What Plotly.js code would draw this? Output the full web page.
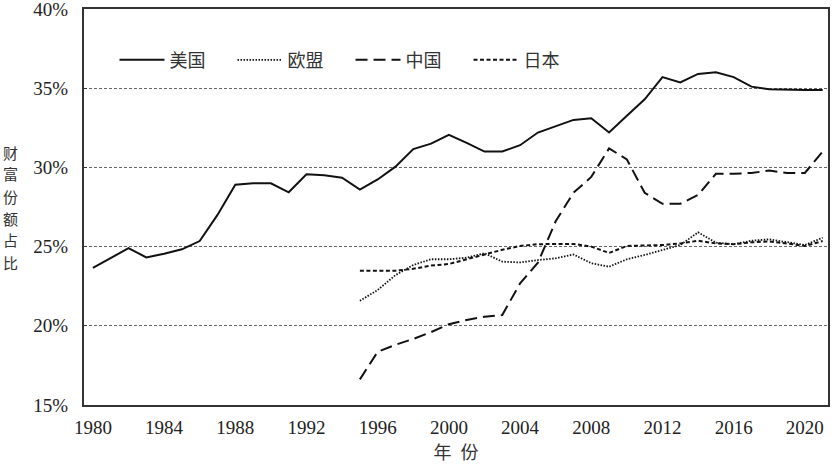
<!DOCTYPE html>
<html>
<head>
<meta charset="utf-8">
<script src="https://cdn.plot.ly/plotly-3.0.1.min.js"></script>
<style>html,body{margin:0;padding:0;background:#fff;}#chart{width:836px;height:466px;}</style>
</head>
<body>
<div id="chart"></div>
<script>
// ---- data ----
const yearsUS = [1980,1981,1982,1983,1984,1985,1986,1987,1988,1989,1990,1991,1992,1993,1994,1995,1996,1997,1998,1999,2000,2001,2002,2003,2004,2005,2006,2007,2008,2009,2010,2011,2012,2013,2014,2015,2016,2017,2018,2019,2020,2021];
const usShare = [23.65,24.25,24.9,24.32,24.55,24.83,25.35,27.0,28.9,29.0,29.0,28.43,29.56,29.5,29.35,28.6,29.24,30.05,31.16,31.5,32.06,31.55,31.0,31.0,31.4,32.2,32.6,33.0,33.1,32.2,33.26,34.3,35.7,35.37,35.9,36.0,35.7,35.1,34.93,34.89,34.89,34.89];
const yearsOther = [1995,1996,1997,1998,1999,2000,2001,2002,2003,2004,2005,2006,2007,2008,2009,2010,2011,2012,2013,2014,2015,2016,2017,2018,2019,2020,2021];
const euShare = [21.58,22.26,23.2,23.84,24.2,24.2,24.3,24.58,24.05,24.0,24.15,24.26,24.5,23.95,23.73,24.2,24.47,24.78,25.1,25.9,25.25,25.15,25.37,25.46,25.3,25.1,25.56];
const chinaShare = [16.62,18.36,18.8,19.17,19.6,20.1,20.37,20.57,20.68,22.68,23.98,26.6,28.4,29.4,31.2,30.5,28.4,27.7,27.7,28.26,29.6,29.6,29.65,29.8,29.65,29.65,31.0];
const japanShare = [23.48,23.5,23.48,23.6,23.8,23.9,24.2,24.5,24.8,25.04,25.15,25.17,25.17,25.0,24.6,25.04,25.08,25.1,25.2,25.37,25.2,25.15,25.27,25.33,25.2,25.04,25.35];
const seriesNames = ['美国','欧盟','中国','日本'];
const xLabelYears = [1980,1984,1988,1992,1996,2000,2004,2008,2012,2016,2020];
const xTickMarks = [1983.5,1987.5,1991.5,1995.5,1999.5,2003.5,2007.5,2011.5,2015.5,2019.5];
const yTickVals = [15,20,25,30,35,40];
const yTickText = ['15%','20%','25%','30%','35%','40%'];
const yTitleChars = ['财','富','份','额','占','比'];
const xTitleText = '年\u2002份';

const fontFam = '"Liberation Serif", "Times New Roman", "DejaVu Serif", serif';
const cjkFam = 'Noto Sans CJK SC';
const lineCol = '#111';

const traces = [
  {x: yearsUS, y: usShare, name: seriesNames[0], mode: 'lines', line: {color: lineCol, width: 2, dash: 'solid'}},
  {x: yearsOther, y: euShare, name: seriesNames[1], mode: 'lines', line: {color: lineCol, width: 1.8, dash: '1.5px,1.5px'}},
  {x: yearsOther, y: chinaShare, name: seriesNames[2], mode: 'lines', line: {color: lineCol, width: 2, dash: '12px,6px'}},
  {x: yearsOther, y: japanShare, name: seriesNames[3], mode: 'lines', line: {color: lineCol, width: 2, dash: '4px,2.5px'}}
];

const plotTop = 9, plotH = 396;
const yTitleAnn = yTitleChars.map((ch, i) => ({
  text: ch, xref: 'paper', yref: 'paper',
  x: (10 - 84) / 744, y: (plotTop + plotH - (152 + i * 22)) / plotH,
  xanchor: 'center', yanchor: 'middle', showarrow: false, borderpad: 0,
  font: {family: cjkFam, size: 15, color: '#333'}
}));

const xr = [1979.5, 2021.3];
const layout = {
  width: 836, height: 466,
  margin: {l: 84, r: 8, t: plotTop, b: 61},
  paper_bgcolor: '#fff', plot_bgcolor: '#fff',
  showlegend: true,
  legend: {
    orientation: 'h', x: 0.041, xanchor: 'left', y: 0.871, yanchor: 'middle',
    font: {family: cjkFam, size: 18, color: '#333'},
    itemwidth: 45, entrywidth: 58, entrywidthmode: 'pixels',
    bgcolor: 'rgba(0,0,0,0)', borderwidth: 0
  },
  xaxis: {
    range: xr, tickvals: xLabelYears, ticktext: xLabelYears.map(String),
    ticks: '', showgrid: false, zeroline: false,
    showline: true, linecolor: '#333', linewidth: 2, mirror: true,
    tickfont: {family: fontFam, size: 19, color: '#222'},
    ticklabelstandoff: 4,
    title: {text: xTitleText, font: {family: cjkFam, size: 18, color: '#333'}, standoff: 8}
  },
  xaxis2: {
    range: xr, overlaying: 'x', anchor: 'y', side: 'bottom',
    tickvals: xTickMarks, ticks: 'inside', ticklen: 8, tickwidth: 1.5, tickcolor: '#333',
    showticklabels: false, showgrid: false, zeroline: false, showline: false
  },
  yaxis: {
    range: [15, 40], tickvals: yTickVals, ticktext: yTickText,
    ticks: 'inside', ticklen: 3, tickcolor: '#333',
    showgrid: true, gridcolor: '#666', gridwidth: 1, griddash: '3px,2px',
    zeroline: false, showline: true, linecolor: '#333', linewidth: 2, mirror: true,
    tickfont: {family: fontFam, size: 19, color: '#222'},
    ticklabelstandoff: 10, ticklabeloverflow: 'allow'
  },
  annotations: yTitleAnn
};

Plotly.newPlot('chart', traces, layout, {displayModeBar: false, staticPlot: true});
</script>
</body>
</html>
